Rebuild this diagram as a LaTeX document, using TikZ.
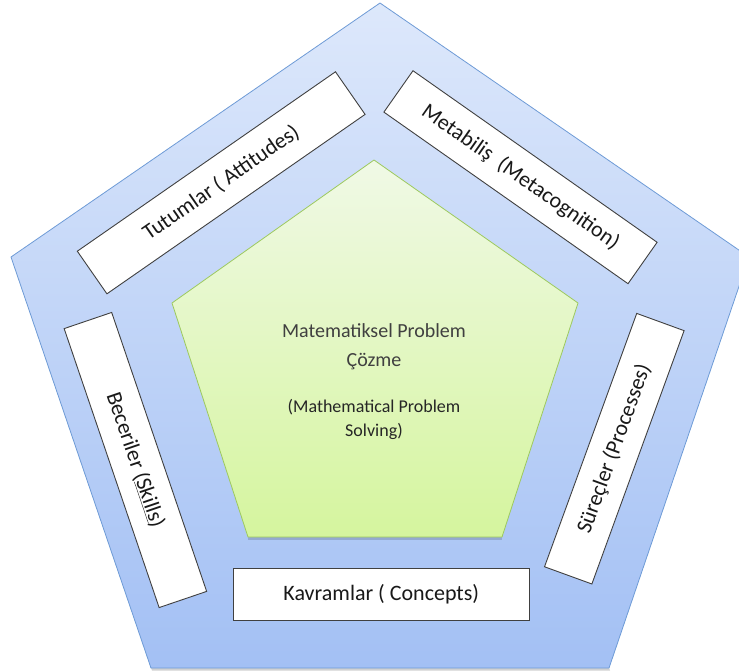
\documentclass[tikz,border=0pt]{standalone}
\usepackage{fontspec}
\setmainfont{Carlito}
\definecolor{outerTop}{HTML}{DDE8FB}
\definecolor{outerBot}{HTML}{A3C0F4}
\definecolor{outerLine}{HTML}{6E9BD6}
\definecolor{greenTop}{HTML}{F0F9E6}
\definecolor{greenBot}{HTML}{D5F59E}
\definecolor{greenLine}{HTML}{9DC95E}
\definecolor{boxLine}{HTML}{404040}
\begin{document}
\begin{tikzpicture}[x=1pt,y=-1pt,
  box/.style={draw=boxLine, line width=0.9pt, fill=white, inner sep=0pt,
    font=\fontsize{22}{26}\selectfont, text=black!90},
  title/.style={align=center, inner sep=0pt, text=black!75},
]
\useasboundingbox (0,0) rectangle (739,672);
\clip (0,0) rectangle (739,672);
% outer pentagon
\coordinate (oT) at (380,3);
\coordinate (oR) at (749,257);
\coordinate (oBR) at (609,668);
\coordinate (oBL) at (151,668);
\coordinate (oL) at (11,257);
\fill[black, opacity=0.18] ([shift={(1,2.5)}]oBR) -- ([shift={(1,2.5)}]oBL) -- ([shift={(1,2.5)}]oL) -- (oL) -- (oBL) -- (oBR) -- cycle;
\shade[top color=outerTop, bottom color=outerBot] (oT) -- (oR) -- (oBR) -- (oBL) -- (oL) -- cycle;
\draw[outerLine, line width=0.8pt] (oT) -- (oR) -- (oBR) -- (oBL) -- (oL) -- cycle;
% inner pentagon
\coordinate (iT) at (374,160);
\coordinate (iR) at (578,303);
\coordinate (iBR) at (502,537);
\coordinate (iBL) at (248,537);
\coordinate (iL) at (172,303);
\fill[black, opacity=0.15] ([shift={(0,2.5)}]iBR) -- ([shift={(0,2.5)}]iBL) -- (iBL) -- (iBR) -- cycle;
\shade[top color=greenTop, bottom color=greenBot] (iT) -- (iR) -- (iBR) -- (iBL) -- (iL) -- cycle;
\draw[greenLine, line width=0.8pt] (iT) -- (iR) -- (iBR) -- (iBL) -- (iL) -- cycle;
\node[title, font=\fontsize{20}{29}\selectfont] (t1) at (374,347) {Matematiksel Problem\\Çözme};
\node[title, font=\fontsize{18}{24.7}\selectfont, text=black!85] (t2) at (374,419.5) {(Mathematical Problem\\Solving)};
% boxes
\node[box, minimum width=314.4pt, minimum height=51.9pt, rotate=34.8] (tut) at (221.2,182.8) {Tutumlar ( Attitudes)};
\node[box, minimum width=298.4pt, minimum height=50.6pt, rotate=-35.1] (meta) at (520.5,177.2) {Metabiliş\ \ (Metacognition)};
\node[box, minimum width=294.7pt, minimum height=50.2pt, rotate=-71.2] (bec) at (135.4,460) {Beceriler (\underline{Skills})};
\node[box, minimum width=269.6pt, minimum height=50.4pt, rotate=70] (sur) at (614.3,448.7) {Süreçler (Processes)};
\node[box, minimum width=295.3pt, minimum height=52pt] (kav) at (381.3,594) {Kavramlar ( Concepts)};
\end{tikzpicture}
\end{document}
